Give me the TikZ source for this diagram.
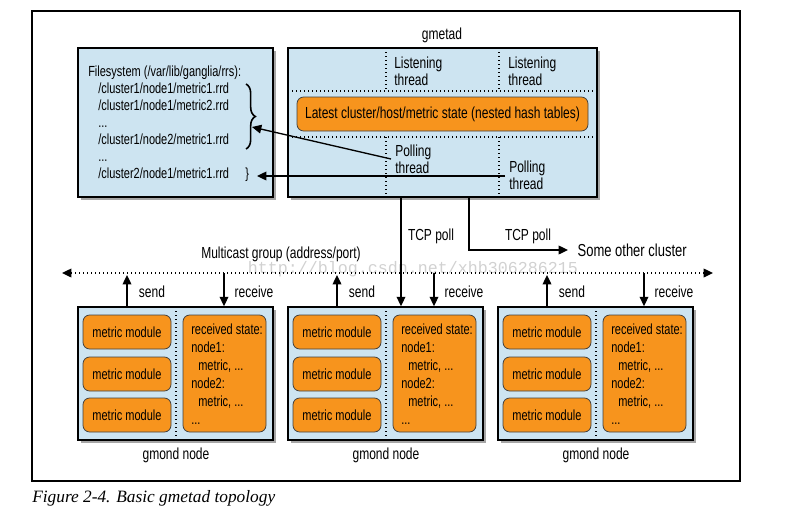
\documentclass[tikz,border=0pt]{standalone}
\usepackage{fontspec}
\setmainfont{Liberation Sans}[FakeStretch=0.75]
\newfontfamily\capfont{Liberation Serif}
\newfontfamily\wmfont{Liberation Mono}
\usetikzlibrary{shadows,arrows.meta,fit,decorations.pathreplacing}
\definecolor{boxblue}{HTML}{CDE4F1}
\definecolor{modorange}{HTML}{F7941D}
\begin{document}
\begin{tikzpicture}[x=0.75pt,y=-0.75pt,
  font=\fontsize{12}{12.75}\selectfont,
  bluebox/.style={draw=black, line width=1.2pt, fill=boxblue, inner sep=0pt,
    drop shadow={shadow xshift=2.2pt, shadow yshift=-2.2pt, opacity=0.35, fill=black}},
  orangebox/.style={draw=black!75, line width=0.6pt, fill=modorange, rounded corners=5pt, inner sep=0pt},
  dotline/.style={dotted, line width=1pt},
  arr/.style={-{Triangle[length=7pt,width=6.5pt]}, line width=1pt},
  lbl/.style={inner sep=0pt, align=left},
  small/.style={font=\fontsize{11}{12.75}\selectfont},
]
\useasboundingbox (0,0) rectangle (806,521);

% outer frame
\node[draw=black, line width=0.9pt, inner sep=0pt, fit={(32,11) (740,481)}] (frame) {};

% filesystem box
\node[bluebox, fit={(78,48) (273,197)}] (fs) {};
\node[lbl, small, anchor=base west] (fs0) at (88,76) {Filesystem (/var/lib/ganglia/rrs):};
\node[lbl, small, anchor=base west] (fs1) at (98,93) {/cluster1/node1/metric1.rrd};
\node[lbl, small, anchor=base west] (fs2) at (98,110) {/cluster1/node1/metric2.rrd};
\node[lbl, small, anchor=base west] (fs3) at (98,127) {...};
\node[lbl, small, anchor=base west] (fs4) at (98,144) {/cluster1/node2/metric1.rrd};
\node[lbl, small, anchor=base west] (fs5) at (98,161) {...};
\node[lbl, small, anchor=base west] (fs6) at (98,178) {/cluster2/node1/metric1.rrd};
\node[lbl, small, anchor=base west] (fsbr) at (245,178) {\}};
\draw[line width=1.2pt, decorate, decoration={brace, amplitude=7pt}] (246,84) -- (246,149);
\coordinate (b1) at (252,127);
\coordinate (b2) at (257,176);

% gmetad box
\node[bluebox, fit={(288,48) (597,197)}] (gm) {};
\node (gmlabel) at (442,35) {gmetad};
\draw[dotline] (288,91) -- (597,91);
\draw[dotline] (288,137) -- (597,137);
\draw[dotline] (386,48) -- (386,91);
\draw[dotline] (499,48) -- (499,91);
\draw[dotline] (386,137) -- (386,197);
\draw[dotline] (499,137) -- (499,197);
\node[lbl, anchor=west] (lt1) at (394,71.5) {Listening\\thread};
\node[lbl, anchor=west] (lt2) at (508,71.5) {Listening\\thread};
\node[orangebox, fit={(297,97) (588,131)}] (state) {};
\node[lbl] (statetxt) at (state.center) {Latest cluster/host/metric state (nested hash tables)};
\node[lbl, anchor=west, inner xsep=3pt] (pt1) at (391,159) {Polling\\thread};
\node[lbl, anchor=west, inner xsep=3pt] (pt2) at (505,175.5) {Polling\\thread};

\draw[arr] (pt1.west) -- (b1);
\draw[arr] (pt2.west |- b2) -- (b2);

% gmond boxes
\foreach \i/\x in {1/78, 2/288, 3/498} {
  \node[bluebox, fit={(\x,307) (\x+195,440)}] (g\i) {};
  \draw[dotline] (\x+98,307) -- (\x+98,440);
  \node[orangebox, fit={(\x+5,315) (\x+93,349)}] (ma\i) {};
  \node[orangebox, fit={(\x+5,357) (\x+93,391)}] (mb\i) {};
  \node[orangebox, fit={(\x+5,398) (\x+93,432)}] (mc\i) {};
  \node[lbl, small] (mat\i) at (ma\i.center) {metric module};
  \node[lbl, small] (mbt\i) at (mb\i.center) {metric module};
  \node[lbl, small] (mct\i) at (mc\i.center) {metric module};
  \node[orangebox, fit={(\x+105,315) (\x+188,432)}] (rs\i) {};
  \node[lbl, small, anchor=base west] (r1\i) at (\x+113,334) {received state:};
  \node[lbl, small, anchor=base west] (r2\i) at (\x+113,352) {node1:};
  \node[lbl, small, anchor=base west] (r3\i) at (\x+120,370) {metric, ...};
  \node[lbl, small, anchor=base west] (r4\i) at (\x+113,388) {node2:};
  \node[lbl, small, anchor=base west] (r5\i) at (\x+120,406) {metric, ...};
  \node[lbl, small, anchor=base west] (r6\i) at (\x+113,424) {...};
  \node (gl\i) at (\x+98,455) {gmond node};
  \coordinate (s\i) at (\x+49,275);
  \coordinate (rc\i) at (\x+146,273);
  \draw[arr] (g\i.north -| s\i) -- (s\i);
  \draw[arr] (rc\i) -- (g\i.north -| rc\i);
  \node (sl\i) at (\x+74,292) {send};
  \node (rl\i) at (\x+176,292) {receive};
}

% multicast line
\coordinate (mcL) at (62,273);
\coordinate (mcR) at (713,273);
\node[inner sep=0pt, text=black!18, font=\wmfont\fontsize{12.5}{12.5}\selectfont] (wm) at (413,269) {http://blog.csdn.net/xhb306286215};
\draw[dotline, {Triangle[length=7pt,width=6.5pt]}-{Triangle[length=7pt,width=6.5pt]}] (mcL) -- (mcR);
\node (mclabel) at (281,254) {Multicast group (address/port)};

% TCP polls
\coordinate (tcp1) at (401,0);
\coordinate (tcp2) at (469,0);
\node[lbl, anchor=west, inner xsep=7pt, font=\fontsize{13}{14}\selectfont] (other) at (568,250) {Some other cluster};
\draw[arr] (gm.south -| tcp1) -- (g2.north -| tcp1);
\draw[arr] (gm.south -| tcp2) |- (other.west);
\node (tl1) at (431,236) {TCP poll};
\node (tl2) at (528,236) {TCP poll};

% caption
\node[anchor=west, inner sep=0pt, font=\capfont\itshape\fontsize{13}{15}\selectfont] (cap) at (32,498) {Figure 2-4. Basic gmetad topology};
\end{tikzpicture}
\end{document}
